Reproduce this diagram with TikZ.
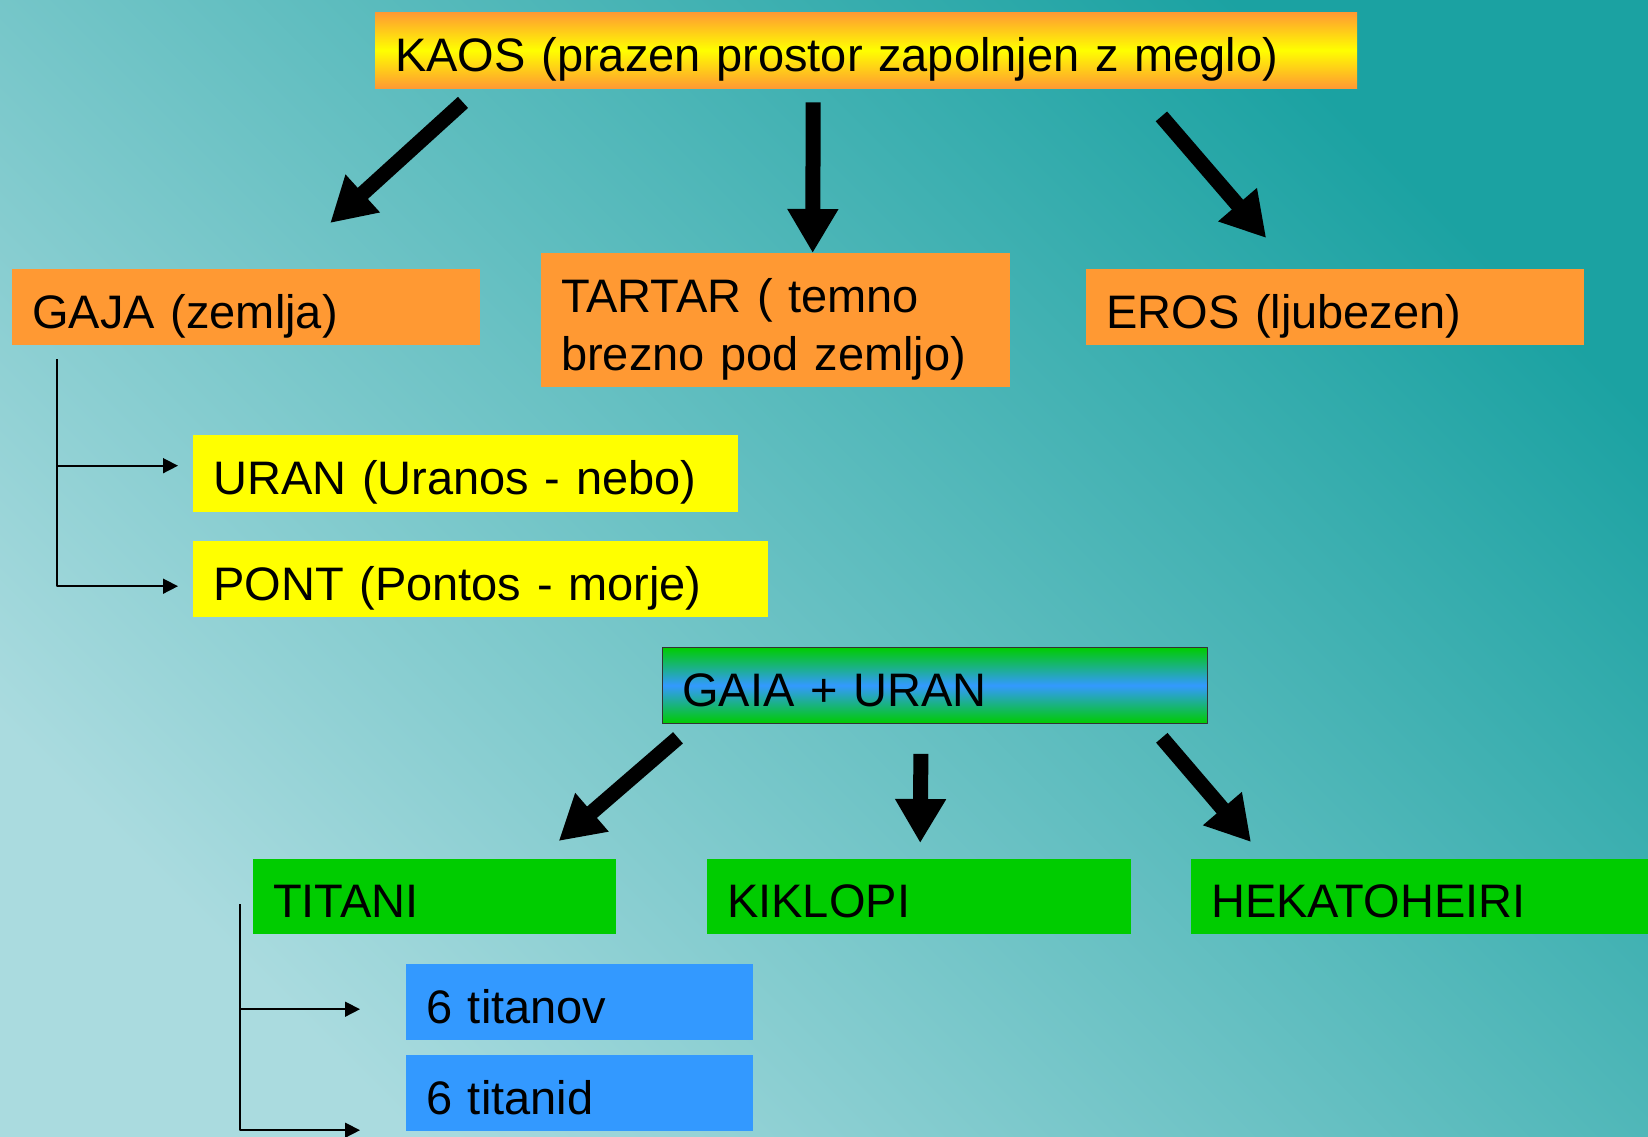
\documentclass[tikz,border=0pt]{standalone}
\usepackage{fontspec}
\setmainfont{Liberation Sans}
\usetikzlibrary{arrows.meta}
\definecolor{bgdark}{HTML}{1BA2A2}
\definecolor{bglight}{HTML}{AADBDF}
\definecolor{oran}{HTML}{FF9933}
\definecolor{yell}{HTML}{FFFF00}
\definecolor{gren}{HTML}{00CC00}
\definecolor{blu}{HTML}{3399FF}
\tikzset{
  box/.style={anchor=north west, inner xsep=20pt, inner ysep=0pt, align=left,
    text height=42pt, text depth=0pt, font=\fontsize{47}{58}\selectfont},
  obox/.style={box, fill=oran},
  ybox/.style={box, fill=yell},
  gbox/.style={box, fill=gren},
  bbox/.style={box, fill=blu},
  bigarrow/.style={line width=15pt, -{Triangle[length=44pt,width=48pt]}},
  smallarrow/.style={line width=1.6pt, -{Triangle[length=15pt,width=15pt]}},
}
\begin{document}
\begin{tikzpicture}[x=1pt, y=-1pt, line join=round]
    \useasboundingbox (0,0) rectangle (1648,1137);
    \clip (0,0) rectangle (1648,1137);
    \shade[left color=bglight, right color=bgdark, shading angle=135] (0,0) rectangle (1648,1137);
    % first generation
    \node[box, top color=oran, bottom color=oran, middle color=yell, text width=942pt, minimum height=76pt] (kaos) at (375,12) {KAOS (prazen prostor zapolnjen z meglo)};
    \node[obox, text width=428pt, minimum height=76pt] (gaja) at (12,269) {GAJA (zemlja)};
    \node[obox, text width=429pt, minimum height=134pt, text depth=58pt] (tartar) at (541,253) {TARTAR ( temno\\brezno pod zemljo)};
    \node[obox, text width=458pt, minimum height=76pt] (eros) at (1086,269) {EROS (ljubezen)};
    \node[ybox, text width=505pt, minimum height=77pt] (uran) at (193,435) {URAN (Uranos - nebo)};
    \node[ybox, text width=535pt, minimum height=76pt] (pont) at (193,541) {PONT (Pontos - morje)};
    \draw[bigarrow] ([shift={(88,14)}]kaos.south west) -- ([shift={(84,-46)}]gaja.north);
    \draw[bigarrow] ([shift={(-53,14)}]kaos.south) -- ([shift={(37,0)}]tartar.north);
    \draw[bigarrow] ([shift={(-196,28)}]kaos.south east) -- ([shift={(-69,-31)}]eros.north);
    \coordinate (g0) at ([shift={(45,14)}]gaja.south west);
    \draw[smallarrow] (g0) |- ([shift={(-15,-8)}]uran.west);
    \draw[smallarrow] (g0) |- ([shift={(-15,7)}]pont.west);
    % second generation
    \node[box, draw=black!80, line width=0.8pt, top color=gren, bottom color=gren, middle color=blu, text width=505pt, minimum height=76pt] (gu) at (662,647) {GAIA + URAN};
    \node[gbox, text width=323pt, minimum height=75pt] (titani) at (253,859) {TITANI};
    \node[gbox, text width=384pt, minimum height=75pt] (kiklopi) at (707,859) {KIKLOPI};
    \node[gbox, text width=440pt, minimum height=75pt] (heka) at (1191,859) {HEKATOHEIRI};
    \node[bbox, text width=307pt, minimum height=76pt] (titanov) at (406,964) {6 titanov};
    \node[bbox, text width=307pt, minimum height=76pt] (titanid) at (406,1055) {6 titanid};
    \draw[bigarrow] ([shift={(16,14)}]gu.south west) -- ([shift={(124,-18)}]titani.north);
    \draw[bigarrow] ([shift={(-14,30)}]gu.south) -- ([shift={(1,-16)}]kiklopi.north);
    \draw[bigarrow] ([shift={(-46,14)}]gu.south east) -- ([shift={(60,-17)}]heka.north west);
    \coordinate (t0) at ([shift={(-13,-30)}]titani.south west);
    \draw[smallarrow] (t0) |- ([shift={(-46,7)}]titanov.west);
    \draw[smallarrow] (t0) |- ([shift={(-46,37)}]titanid.west);
\end{tikzpicture}
\end{document}
